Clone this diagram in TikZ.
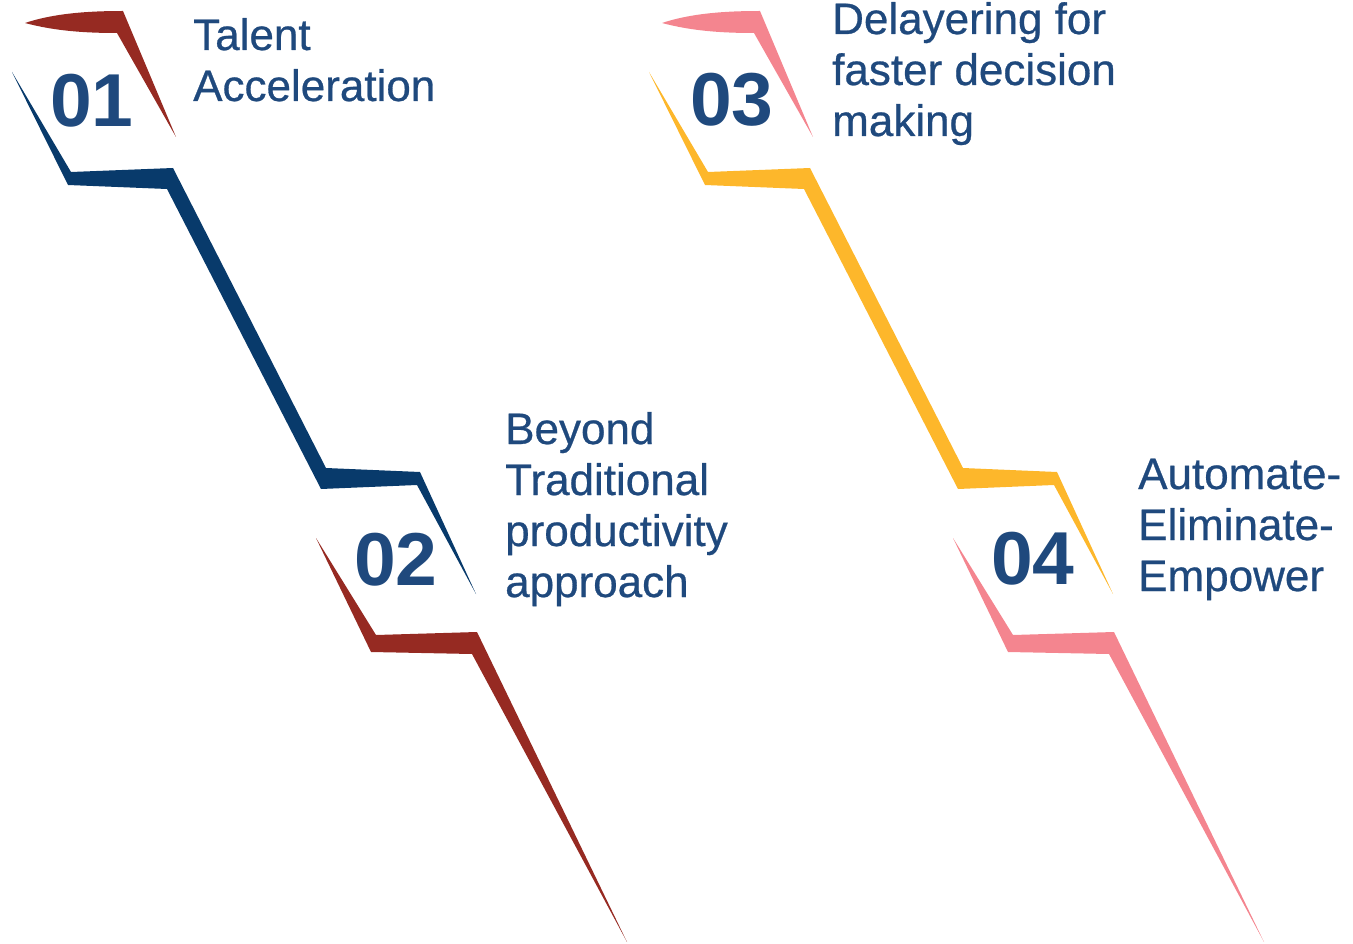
\documentclass[tikz,border=0pt]{standalone}
\usepackage{fontspec}
\setmainfont{Liberation Sans}
\newfontface\labfont{Liberation Sans}[FakeBold=0.6]
\definecolor{cred}{RGB}{150,42,34}
\definecolor{cnavy}{RGB}{8,58,107}
\definecolor{cyellow}{RGB}{253,183,43}
\definecolor{cpink}{RGB}{244,133,143}
\definecolor{ctext}{RGB}{31,73,125}
\begin{document}
\begin{tikzpicture}[x=1pt,y=-1pt,
  numtxt/.style={inner sep=0pt,text=ctext,font=\fontsize{75}{75}\selectfont\bfseries},
  labtxt/.style={inner sep=0pt,anchor=base west,align=left,text=ctext,font=\fontsize{44}{51}\labfont}]
\useasboundingbox (0,0) rectangle (1353,944);
% left group
\fill[cred] (25,23) .. controls (55,13) and (90,11) .. (123,11) -- (176,137) -- (117,33)
  .. controls (85,33) and (55,31) .. (25,23) -- cycle;
\fill[cnavy] (12,72) -- (71,172) -- (173,168) -- (326,468) -- (420,472) -- (476,594)
  -- (417,485) -- (321,489) -- (167,189) -- (68,185) -- cycle;
\fill[cred] (316,538) -- (376,635) -- (477,632) -- (627,942) -- (472,654) -- (371,652) -- cycle;
% right group
\begin{scope}[xshift=637]
\fill[cpink] (25,23) .. controls (55,13) and (90,11) .. (123,11) -- (176,137) -- (117,33)
  .. controls (85,33) and (55,31) .. (25,23) -- cycle;
\fill[cyellow] (12,72) -- (71,172) -- (173,168) -- (326,468) -- (420,472) -- (476,594)
  -- (417,485) -- (321,489) -- (167,189) -- (68,185) -- cycle;
\fill[cpink] (316,538) -- (376,635) -- (477,632) -- (627,942) -- (472,654) -- (371,652) -- cycle;
\end{scope}
% numbers
\node[numtxt] (n1) at (92,101) {01};
\node[numtxt] (n2) at (396,560) {02};
\node[numtxt] (n3) at (732,100) {03};
\node[numtxt] (n4) at (1033,559) {04};
% labels (anchored at the baseline of the last line)
\node[labtxt] (l1) at (193,101) {Talent\\Acceleration};
\node[labtxt] (l2) at (505,597) {Beyond\\Traditional\\productivity\\approach};
\node[labtxt] (l3) at (832,136) {Delayering for\\faster decision\\making};
\node[labtxt] (l4) at (1138,591) {Automate-\\Eliminate-\\Empower};
\end{tikzpicture}
\end{document}
